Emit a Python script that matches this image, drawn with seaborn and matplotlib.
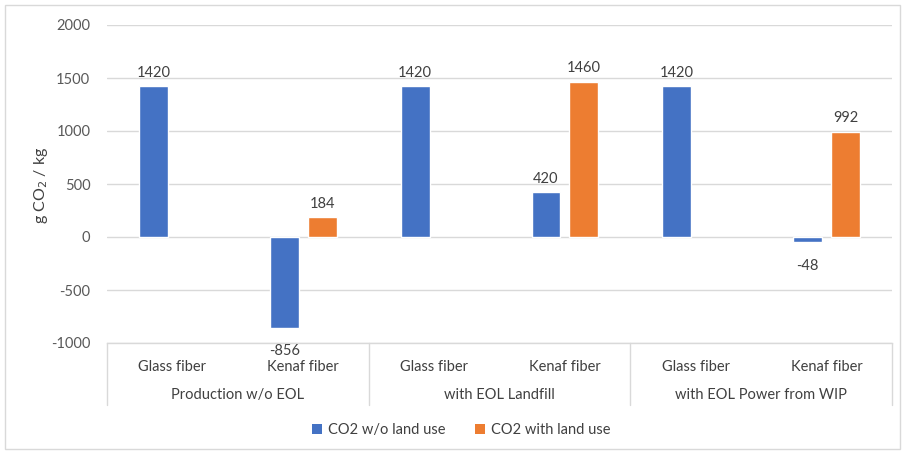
import matplotlib
matplotlib.use("Agg")
import matplotlib.pyplot as plt
import matplotlib.transforms as mtransforms
from matplotlib.patches import Rectangle, Patch
import seaborn as sns
import pandas as pd
import numpy as np

scenarios = ["Production w/o EOL", "with EOL Landfill", "with EOL Power from WIP"]
fibers = ["Glass fiber", "Kenaf fiber"]
series = ["CO2 w/o land use", "CO2 with land use"]
co2_without_land = [1420, -856, 1420, 420, 1420, -48]
co2_with_land = [None, 184, None, 1460, None, 992]
y_ticks = [-1000, -500, 0, 500, 1000, 1500, 2000]
colors = ["#4472C4", "#ED7D31"]

rows = []
keys = []
for si, sc in enumerate(scenarios):
    for fi, fb in enumerate(fibers):
        k = f"{sc}|{fb}"
        keys.append(k)
        idx = si * 2 + fi
        for name, vals in zip(series, [co2_without_land, co2_with_land]):
            v = vals[idx]
            if v is not None:
                rows.append({"key": k, "series": name, "value": v})
df = pd.DataFrame(rows)

sns.set_theme(style="white")
plt.rcParams["font.family"] = ["Lato", "DejaVu Sans"]

fig = plt.figure(figsize=(9.06, 4.53), dpi=100)
ax = fig.add_axes([107/906, 1-343/453, (892-107)/906, (343-25)/453])

sns.barplot(data=df, x="key", y="value", hue="series", order=keys,
            hue_order=series, palette=colors, width=0.58, gap=0.24,
            saturation=1, ax=ax, legend=False, errorbar=None)

for cont in ax.containers:
    vals = cont.datavalues
    pos_labels = [f"{v:.0f}" if v >= 0 else "" for v in vals]
    neg_labels = [f"{v:.0f}" if v < 0 else "" for v in vals]
    ax.bar_label(cont, labels=pos_labels, padding=5, fontsize=10.5, color="#404040")
    ax.bar_label(cont, labels=neg_labels, padding=12, fontsize=10.5, color="#404040")

ax.set_ylim(-1000, 2000)
ax.set_xlim(-0.5, 5.5)
ax.set_yticks(y_ticks)
ax.set_yticklabels([str(t) for t in y_ticks], fontsize=10.5, color="#595959")
ax.yaxis.grid(True, color="#D9D9D9", linewidth=1)
ax.set_axisbelow(True)
ax.tick_params(axis="y", length=0, pad=12)
ax.tick_params(axis="x", length=0, pad=12)
ax.set_xticks(range(6))
ax.set_xticklabels([k.split("|")[1] for k in keys], fontsize=10.5, color="#404040")
ax.set_xlabel("")
ax.set_ylabel("")
fig.text(41/906, 1-185/453, r"g CO$_2$ / kg", rotation=90, ha="center", va="center",
         fontsize=11.5, color="#404040")

for s in ["top", "right", "left"]:
    ax.spines[s].set_visible(False)
ax.spines["bottom"].set_color("#D9D9D9")
ax.spines["bottom"].set_linewidth(1)

trans = mtransforms.blended_transform_factory(ax.transData, ax.transAxes)
div_len = (405 - 343) / (343 - 25)
for xd in [-0.5, 1.5, 3.5, 5.5]:
    ax.plot([xd, xd], [0, -div_len], transform=trans, color="#D9D9D9",
            linewidth=1, clip_on=False)
grp_y = -(395 - 343) / (343 - 25)
for i, sc in enumerate(scenarios):
    ax.text(2 * i + 0.5, grp_y, sc, transform=trans, ha="center", va="center",
            fontsize=10.5, color="#404040")

handles = [Patch(facecolor=c, edgecolor="none") for c in colors]
fig.legend(handles, series, loc="center", bbox_to_anchor=(461/906, 1-430/453),
           ncol=2, frameon=False, fontsize=10.5, handlelength=0.7,
           handleheight=0.7, handletextpad=0.4, columnspacing=2.0,
           labelcolor="#404040")

fig.patches.append(Rectangle((5/906, 4/453), 895/906, 444/453, transform=fig.transFigure,
                             fill=False, edgecolor="#D9D9D9", linewidth=1))

fig.savefig("out.png", dpi=100)
